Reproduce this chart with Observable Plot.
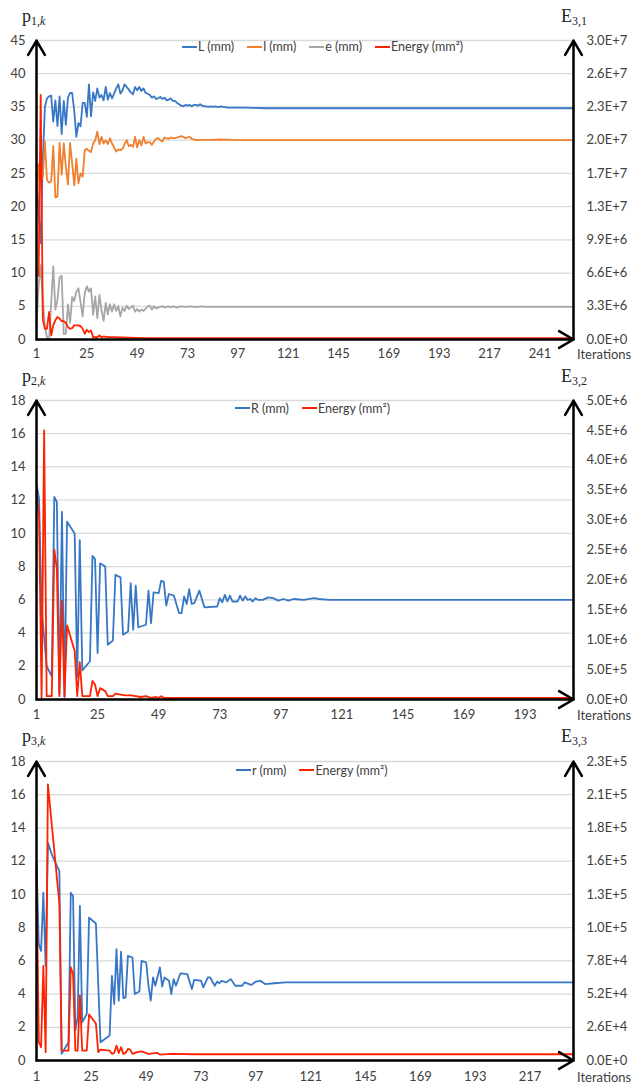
<!DOCTYPE html>
<html><head><meta charset="utf-8">
<script src="https://cdn.jsdelivr.net/npm/d3@7"></script>
<script src="https://cdn.jsdelivr.net/npm/@observablehq/plot@0.6"></script>
<style>
body{margin:0;background:#fff;}
#root{position:relative;width:632px;height:1085px;font-family:Lato,"Open Sans",sans-serif;color:#404040;overflow:hidden;}
.panel{position:absolute;left:0;width:632px;}
.panel svg{position:absolute;left:0;top:0;}
.legend{position:absolute;display:flex;align-items:center;height:16px;font-size:12.5px;color:#404040;white-space:nowrap;}
.legend .item{display:flex;align-items:center;margin-right:13px;}
.legend .sw{display:inline-block;width:15px;height:2px;margin-right:1px;}
.ttl{position:absolute;font-family:"Liberation Serif","DejaVu Serif",serif;font-size:18px;color:#222;line-height:18px;white-space:nowrap;}
.ttl sub{font-size:12px;vertical-align:baseline;position:relative;top:3px;}
.iter{position:absolute;font-size:13px;line-height:16px;color:#404040;}
</style></head>
<body><div id="root"></div>
<script>
// ---------- colours ----------
const BLUE = "#3877c6", ORANGE = "#f07f2e", GRAY = "#a6a6a6", RED = "#ff2200";

// ---------- panel 1 : p1,k ----------
const L_mm = [[1,25.0],[2,19.0],[3,14.5],[4,27.0],[5,35.0],[6,36.3],[7,36.6],[8,36.7],[9,32.8],[10,36.0],[11,32.1],[12,36.6],[13,30.9],[14,35.9],[15,32.3],[16,36.4],[17,37.1],[18,37.1],[19,34.4],[20,30.5],[21,32.6],[22,32.1],[23,35.6],[24,35.6],[25,33.5],[26,38.4],[27,33.6],[28,37.2],[29,35.9],[30,37.8],[31,36.4],[32,36.8],[33,36.0],[34,38.0],[35,36.1],[36,37.1],[37,36.3],[38,37.0],[39,37.8],[40,38.4],[41,37.0],[42,37.5],[43,38.4],[44,38.0],[45,37.6],[46,37.2],[47,36.9],[48,38.0],[49,37.5],[50,38.0],[51,37.4],[52,37.8],[53,37.1],[54,37.0],[55,36.8],[56,36.4],[57,36.6],[58,36.2],[59,36.3],[60,36.5],[61,36.2],[62,36.4],[63,36.0],[64,36.1],[65,36.3],[66,35.9],[67,35.9],[68,35.6],[69,35.4],[70,35.2],[71,35.1],[72,35.3],[73,35.2],[74,35.3],[75,35.1],[76,35.3],[77,35.3],[78,35.2],[79,35.4],[80,35.2],[81,35.1],[82,35.1],[83,35.0],[84,35.1],[85,35.0],[86,35.1],[87,35.0],[88,35.0],[89,35.1],[90,35.0],[92,34.9],[96,34.9],[100,34.9],[105,34.85],[110,34.8],[257,34.8]];
const l_mm = [[1,20.1],[2,26.4],[3,23.6],[4,24.5],[5,29.8],[6,24.0],[7,23.6],[8,23.8],[9,29.1],[10,21.4],[11,21.5],[12,29.6],[13,24.8],[14,29.5],[15,26.0],[16,23.3],[17,29.6],[18,26.5],[19,23.2],[20,27.2],[21,23.5],[22,25.0],[23,24.5],[24,28.5],[25,28.7],[26,28.4],[27,28.2],[28,29.5],[29,30.0],[30,31.3],[31,29.4],[32,30.5],[33,29.5],[34,30.0],[35,29.4],[36,30.3],[37,29.5],[38,28.9],[39,28.3],[40,28.6],[41,28.5],[42,28.7],[43,29.4],[44,30.0],[45,29.1],[46,29.3],[47,29.0],[48,30.5],[49,28.9],[50,30.0],[51,29.2],[52,30.5],[53,29.5],[54,29.7],[55,29.7],[56,29.3],[57,29.8],[58,30.2],[59,30.3],[60,30.0],[61,29.8],[62,30.4],[63,30.3],[64,30.2],[65,30.4],[66,30.3],[67,30.3],[68,30.4],[69,30.5],[70,30.6],[71,30.5],[72,30.3],[73,30.4],[74,30.5],[75,30.2],[76,30.1],[78,30.0],[80,30.05],[85,30.05],[88,30.1],[95,30.05],[100,30.0],[257,30.0]];
const e_mm = [[1,1.9],[2,8.0],[3,11.2],[4,6.0],[5,2.0],[6,0.3],[7,0.0],[8,5.5],[9,11.0],[10,4.5],[11,6.0],[12,9.3],[13,9.6],[14,0.8],[15,0.9],[16,5.3],[17,2.5],[18,6.4],[19,5.8],[20,7.2],[21,7.7],[22,5.6],[23,3.5],[24,7.0],[25,8.0],[26,7.2],[27,7.7],[28,3.7],[29,6.5],[30,3.2],[31,6.7],[32,4.4],[33,2.8],[34,5.5],[35,3.8],[36,5.3],[37,4.2],[38,5.3],[39,4.3],[40,5.0],[41,3.5],[42,4.8],[43,4.3],[44,5.1],[45,4.6],[46,4.8],[47,5.1],[48,4.2],[49,4.6],[50,4.2],[51,4.5],[52,4.3],[53,4.6],[54,5.0],[55,5.1],[56,4.5],[57,5.0],[58,4.7],[59,4.8],[60,4.9],[61,5.0],[62,4.8],[63,4.9],[64,5.0],[65,4.8],[66,5.0],[67,4.9],[68,4.8],[69,4.9],[70,5.0],[72,4.9],[74,5.0],[76,4.9],[78,4.9],[80,5.0],[82,4.9],[85,4.9],[90,4.9],[257,4.9]];
const energy1 = [[1,6.4e6],[2,6.33e6],[3,2.43e7],[4,2.0e6],[5,1.07e6],[6,1.07e6],[7,2.73e6],[8,4.0e5],[9,1.4e6],[10,1.93e6],[11,2.23e6],[12,2.07e6],[13,1.83e6],[14,1.83e6],[15,1.63e6],[16,1.23e6],[17,1.07e6],[18,1.13e6],[19,1.4e6],[20,1.4e6],[21,1.4e6],[22,1.33e6],[23,1.07e6],[24,5.7e5],[25,9.7e5],[26,7.3e5],[27,9.0e5],[28,2.3e5],[29,2.3e5],[30,2.3e5],[31,4.0e5],[32,2.3e5],[33,3.0e5],[34,2.7e5],[35,2.3e5],[38,2.3e5],[42,2.0e5],[48,1.7e5],[55,1.4e5],[70,1.3e5],[257,1.3e5]];
const xTicks1 = [1,25,49,73,97,121,145,169,193,217,241];
const yTicks1 = [0,5,10,15,20,25,30,35,40,45];
const eTicks1 = [0,3.3e6,6.6e6,9.9e6,1.32e7,1.65e7,1.98e7,2.31e7,2.64e7,2.97e7];
const eLabels1 = ["0.0E+0","3.3E+6","6.6E+6","9.9E+6","1.3E+7","1.7E+7","2.0E+7","2.3E+7","2.6E+7","3.0E+7"];

// ---------- panel 2 : p2,k ----------
const R_mm = [[1,13.0],[2,12.1],[3,5.5],[5,2.0],[7,1.4],[8,12.2],[9,11.9],[10,0.3],[11,11.3],[12,0.15],[13,10.7],[16,10.0],[17,1.35],[18,9.6],[19,1.75],[22,2.3],[23,8.65],[24,8.45],[25,2.8],[26,8.2],[28,8.0],[29,3.3],[31,3.55],[32,7.5],[34,7.35],[35,3.9],[37,4.1],[38,7.0],[39,4.2],[40,6.85],[41,4.35],[44,4.5],[45,6.55],[46,4.6],[47,6.45],[49,6.4],[50,7.15],[51,7.1],[52,5.65],[53,6.35],[55,6.25],[57,5.2],[58,5.2],[59,6.2],[60,5.75],[61,6.65],[62,5.75],[63,5.8],[65,6.55],[67,5.55],[72,5.6],[73,6.1],[74,5.85],[75,6.3],[76,5.9],[77,6.25],[78,5.9],[80,5.9],[81,6.25],[82,5.95],[83,6.2],[84,6.0],[85,6.05],[86,5.9],[87,6.1],[88,6.0],[90,6.0],[92,6.15],[94,6.1],[96,5.95],[98,6.05],[100,5.95],[102,6.05],[106,6.0],[110,6.1],[112,6.05],[116,6.0],[212,6.0]];
const energy2 = [[1,3.47e6],[2,3.06e6],[3,0],[4,4.5e6],[5,5.6e4],[7,5.6e4],[8,2.51e6],[9,2.18e6],[10,5.6e4],[11,1.65e6],[12,5.6e4],[13,1.24e6],[16,8.1e5],[17,5.6e4],[18,6.25e5],[19,5.6e4],[22,5.6e4],[23,3.1e5],[24,2.5e5],[25,5.6e4],[26,1.9e5],[28,1.4e5],[29,5.6e4],[31,5.6e4],[32,9.7e4],[34,8.3e4],[36,6.9e4],[38,6.9e4],[40,5.6e4],[42,4.2e4],[44,5.6e4],[46,2.8e4],[48,4.2e4],[49,2.8e4],[50,5.6e4],[51,2.8e4],[55,2.5e4],[212,2.5e4]];
const xTicks2 = [1,25,49,73,97,121,145,169,193];
const yTicks23 = [0,2,4,6,8,10,12,14,16,18];
const eTicks2 = [0,5e5,1e6,1.5e6,2e6,2.5e6,3e6,3.5e6,4e6,4.5e6,5e6];
const eLabels2 = ["0.0E+0","5.0E+5","1.0E+6","1.5E+6","2.0E+6","2.5E+6","3.0E+6","3.5E+6","4.0E+6","4.5E+6","5.0E+6"];

// ---------- panel 3 : p3,k ----------
const r_mm = [[1,12.0],[2,7.0],[3,6.6],[4,10.1],[5,5.7],[6,13.1],[8,12.3],[11,11.4],[12,0.4],[15,1.1],[16,10.1],[17,9.9],[18,1.8],[19,2.6],[20,9.3],[21,2.3],[23,2.8],[24,8.6],[27,8.25],[29,1.1],[33,1.5],[34,5.1],[35,3.4],[36,6.7],[37,3.6],[38,6.55],[39,3.75],[40,3.8],[41,6.3],[43,6.2],[44,4.0],[46,4.15],[47,6.0],[49,5.9],[50,4.5],[51,3.6],[52,5.0],[53,4.5],[55,5.6],[56,4.45],[57,5.0],[59,4.8],[60,4.0],[61,4.9],[62,4.5],[64,5.25],[67,5.2],[69,4.3],[70,4.85],[73,4.8],[74,4.4],[76,5.0],[77,5.0],[79,4.5],[80,4.75],[81,4.65],[82,4.8],[84,4.7],[86,4.9],[88,4.5],[91,4.5],[92,4.7],[95,4.55],[97,4.75],[99,4.8],[101,4.6],[105,4.65],[110,4.7],[236,4.7]];
const energy3 = [[1,1.51e5],[2,1.43e4],[3,1.04e4],[4,7.4e4],[5,6.5e3],[6,2.16e5],[11,1.23e5],[12,7.8e3],[15,7.8e3],[16,7.3e4],[17,6.8e4],[18,7.8e3],[19,7.8e3],[20,5.1e4],[21,7.8e3],[23,7.8e3],[24,3.6e4],[27,2.9e4],[28,6.5e3],[29,8.5e3],[33,7.8e3],[34,5.2e3],[35,5.9e3],[36,1.17e4],[37,5.9e3],[38,1.04e4],[39,5.2e3],[40,5.9e3],[41,9.1e3],[42,8.5e3],[43,5.2e3],[45,6.5e3],[47,7.2e3],[48,6.5e3],[50,5.2e3],[54,5.9e3],[55,4.6e3],[60,5.2e3],[70,4.9e3],[236,4.9e3]];
const xTicks3 = [1,25,49,73,97,121,145,169,193,217];
const eTicks3 = [0,2.6e4,5.2e4,7.8e4,1.04e5,1.3e5,1.56e5,1.82e5,2.08e5,2.34e5];
const eLabels3 = ["0.0E+0","2.6E+4","5.2E+4","7.8E+4","1.0E+5","1.3E+5","1.6E+5","1.8E+5","2.1E+5","2.3E+5"];

const ENERGY_LABEL = "Energy (mm²)";

const panels = [
  {top: 0, height: 360, mt: 40, mb: 21, pad: 9, xDomain: [1, 257], yMax: 45, yTicks: yTicks1, xTicks: xTicks1,
   eMax: 2.97e7, eTicks: eTicks1, eLabels: eLabels1,
   series: [[L_mm, BLUE], [l_mm, ORANGE], [e_mm, GRAY]], energy: energy1,
   legend: [["L (mm)", BLUE], ["l (mm)", ORANGE], ["e (mm)", GRAY], [ENERGY_LABEL, RED]],
   legendLeft: 182, legendTop: 38.5, pSub: "1", eSub: "3,1", iterTop: 346},
  {top: 360, height: 360, mt: 40, mb: 21, pad: 10, xDomain: [1, 212], yMax: 18, yTicks: yTicks23, xTicks: xTicks2,
   eMax: 5e6, eTicks: eTicks2, eLabels: eLabels2,
   series: [[R_mm, BLUE]], energy: energy2,
   legend: [["R (mm)", BLUE], [ENERGY_LABEL, RED]],
   legendLeft: 235, legendTop: 40, pSub: "2", eSub: "3,2", iterTop: 347},
  {top: 720, height: 365, mt: 41, mb: 25, pad: 11, xDomain: [1, 236], yMax: 18, yTicks: yTicks23, xTicks: xTicks3,
   eMax: 2.34e5, eTicks: eTicks3, eLabels: eLabels3,
   series: [[r_mm, BLUE]], energy: energy3,
   legend: [["r (mm)", BLUE], [ENERGY_LABEL, RED]],
   legendLeft: 236, legendTop: 42, pSub: "3", eSub: "3,3", iterTop: 349}
];

const root = document.getElementById("root");

for (const cfg of panels) {
  const k = cfg.yMax / cfg.eMax;
  const ePos = cfg.eTicks.map(v => v * k);
  const axesLines = [
    {x1: cfg.xDomain[0], y1: 0, x2: cfg.xDomain[0], y2: cfg.yMax},
    {x1: cfg.xDomain[1], y1: 0, x2: cfg.xDomain[1], y2: cfg.yMax},
    {x1: cfg.xDomain[0], y1: 0, x2: cfg.xDomain[1], y2: 0}
  ];
  const svg = Plot.plot({
    width: 632, height: cfg.height,
    marginLeft: 36, marginRight: 59, marginTop: cfg.mt, marginBottom: cfg.mb,
    x: {domain: cfg.xDomain},
    y: {domain: [0, cfg.yMax]},
    style: {fontFamily: "Lato, 'Open Sans', sans-serif", fontSize: "13px", color: "#404040", background: "transparent", overflow: "visible"},
    marks: [
      Plot.gridY(cfg.yTicks, {stroke: "#d9d9d9", strokeOpacity: 1, strokeWidth: 1.3}),
      ...cfg.series.map(([data, color]) => Plot.line(data, {x: d => d[0], y: d => d[1], stroke: color, strokeWidth: 1.8})),
      Plot.line(cfg.energy, {x: d => d[0], y: d => d[1] * k, stroke: RED, strokeWidth: 1.8}),
      Plot.axisX(cfg.xTicks, {tickSize: 0, tickPadding: cfg.pad, tickFormat: d => String(d)}),
      Plot.axisY(cfg.yTicks, {anchor: "left", tickSize: 0, tickPadding: 11, tickFormat: d => String(d)}),
      Plot.axisY(ePos, {anchor: "right", tickSize: 0, tickPadding: 13, tickFormat: v => cfg.eLabels[ePos.indexOf(v)]}),
      Plot.arrow(axesLines, {x1: "x1", y1: "y1", x2: "x2", y2: "y2", stroke: "#000", strokeWidth: 2.5, headLength: 10, headAngle: 60})
    ]
  });

  const div = document.createElement("div");
  div.className = "panel";
  div.style.top = cfg.top + "px";
  div.style.height = cfg.height + "px";
  div.appendChild(svg);

  // axis titles
  const pt = document.createElement("div");
  pt.className = "ttl";
  pt.style.left = "22px"; pt.style.top = "6.5px";
  pt.innerHTML = "p<sub>" + cfg.pSub + ",<i>k</i></sub>";
  div.appendChild(pt);

  const et = document.createElement("div");
  et.className = "ttl";
  et.style.left = "561px"; et.style.top = "7px";
  et.innerHTML = "E<sub>" + cfg.eSub + "</sub>";
  div.appendChild(et);

  // x axis title
  const it = document.createElement("div");
  it.className = "iter";
  it.style.left = "577px"; it.style.top = cfg.iterTop + "px";
  it.textContent = "Iterations";
  div.appendChild(it);

  // legend
  const lg = document.createElement("div");
  lg.className = "legend";
  lg.style.left = cfg.legendLeft + "px";
  lg.style.top = cfg.legendTop + "px";
  for (const [label, color] of cfg.legend) {
    const item = document.createElement("span");
    item.className = "item";
    const sw = document.createElement("span");
    sw.className = "sw";
    sw.style.background = color;
    item.appendChild(sw);
    item.appendChild(document.createTextNode(label));
    lg.appendChild(item);
  }
  div.appendChild(lg);

  root.appendChild(div);
}
</script>
</body></html>
